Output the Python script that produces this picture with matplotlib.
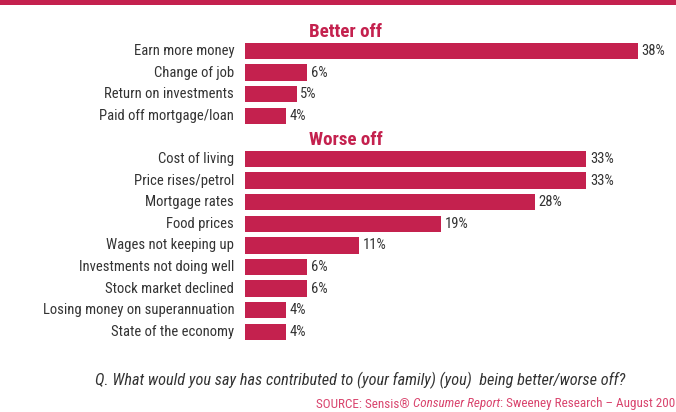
import matplotlib
matplotlib.use("Agg")
import matplotlib.pyplot as plt
from matplotlib import font_manager

better_labels = ["Earn more money", "Change of job", "Return on investments",
                 "Paid off mortgage/loan"]
better_values = [38, 6, 5, 4]
worse_labels = ["Cost of living", "Price rises/petrol", "Mortgage rates", "Food prices",
                "Wages not keeping up", "Investments not doing well",
                "Stock market declined", "Losing money on superannuation",
                "State of the economy"]
worse_values = [33, 33, 28, 19, 11, 6, 6, 4, 4]
headers = ["Better off", "Worse off"]

RED = "#c4214e"
GREY = "#333333"
names = {f.name for f in font_manager.fontManager.ttflist}
FONT = next(n for n in ["Liberation Sans Narrow", "Roboto Condensed", "Open Sans Condensed",
                        "Lato", "DejaVu Sans"] if n in names)
plt.rcParams["font.family"] = [FONT, "DejaVu Sans"]

W, H = 676, 412
fig = plt.figure(figsize=(W / 100, H / 100), dpi=100)
fig.canvas.draw()
renderer = fig.canvas.get_renderer()


def fit(t, target_px):
    # rescale a text so that it spans target_px pixels
    w = t.get_window_extent(renderer=renderer).width
    t.set_fontsize(t.get_fontsize() * target_px / w)
    return t


# top stripe
fig.add_artist(plt.Rectangle((0, 1 - 5 / H), 1, 5 / H, transform=fig.transFigure,
                             color=RED, lw=0))

# axes placed in pixel units: bars start at x=245, 1% ~ 10.34 px
x0, x1 = 245, 245 + 41 * 10.34
y_top, y_bot = 18, 345
ax = fig.add_axes([x0 / W, 1 - y_bot / H, (x1 - x0) / W, (y_bot - y_top) / H])
slot = 21.6
ax.set_xlim(0, 41)
ax.set_ylim((y_bot - 29.4) / slot, (y_top - 29.4) / slot)
ax.axis("off")

rows = [(headers[0], None)] + list(zip(better_labels, better_values)) + \
       [(headers[1], None)] + list(zip(worse_labels, worse_values))

# label size taken from the longest category name
probe = fig.text(0, 0, "Losing money on superannuation", fontsize=10)
lab_fs = fit(probe, 190).get_fontsize()
probe.remove()
probe = fig.text(0, 0, "Better off", fontsize=12, fontweight="bold")
head_fs = fit(probe, 73).get_fontsize()
probe.remove()

for i, (lab, val) in enumerate(rows):
    if val is None:
        ax.text(6.2, i + 0.14, lab, color=RED, fontsize=head_fs, fontweight="bold",
                ha="left", va="center")
        continue
    ax.barh(i, val, height=0.755, color=RED, lw=0)
    ax.text(-1.05, i, lab, color=GREY, fontsize=lab_fs, ha="right", va="center")
    ax.text(val + 0.35, i, f"{val}%", color=GREY, fontsize=lab_fs, ha="left", va="center")

q = fig.text(95 / W, 1 - 380 / H,
             "Q. What would you say has contributed to (your family) (you)  being better/worse off?",
             color=GREY, fontsize=10, style="italic", ha="left", va="center")
fit(q, 530)

# source line with italic report title
parts = [("SOURCE: Sensis® ", "normal"), ("Consumer Report", "italic"),
         (": Sweeney Research – August 2008", "normal")]
src = fig.text(0, 0, "".join(p[0] for p in parts), fontsize=10)
src_fs = fit(src, 364).get_fontsize()
src.remove()
xpos = 316 / W
for txt, st in parts:
    t = fig.text(xpos, 1 - 404 / H, txt, color="#d9456e", fontsize=src_fs, style=st,
                 ha="left", va="center")
    xpos += t.get_window_extent(renderer=renderer).width / W

fig.savefig("out.png", dpi=100)
